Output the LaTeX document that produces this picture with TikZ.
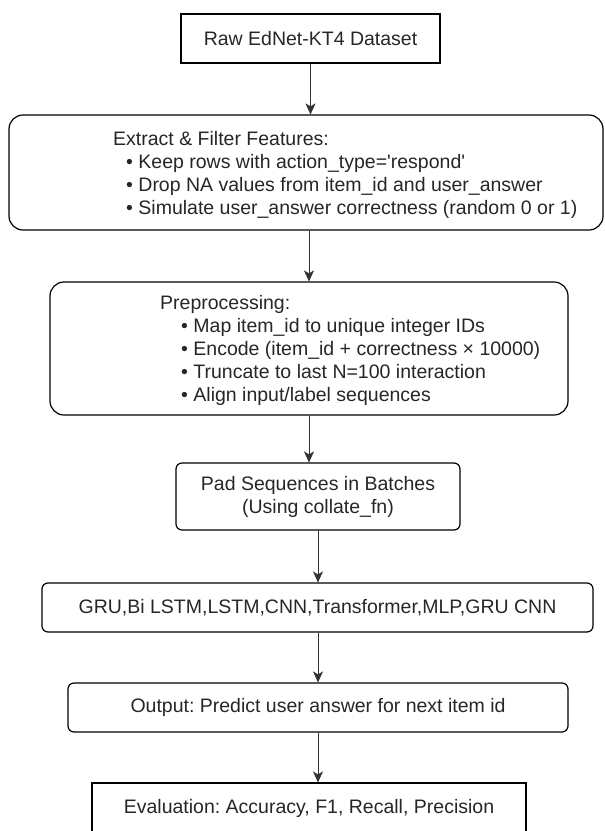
\documentclass[tikz,border=0pt]{standalone}
\usepackage{fontspec}
\setmainfont{Liberation Sans}
\usetikzlibrary{arrows.meta,positioning}
\frenchspacing

\tikzset{
  flowbox/.style={draw, line width=1.2pt, inner sep=0pt, align=center,
    font=\fontsize{19.5}{23}\selectfont, text=black!85},
  roundbox/.style={flowbox, rounded corners=14pt},
  softbox/.style={flowbox, rounded corners=6pt},
  lbl/.style={inner sep=0pt, align=left, font=\fontsize{19.5}{23}\selectfont, text=black!85},
  flow/.style={-{Stealth[length=11pt,width=10pt,inset=3pt]}, line width=0.6pt, black!80}
}
\newcommand{\bul}{\hspace*{13pt}\textbullet\ }

\begin{document}
\begin{tikzpicture}[x=1pt,y=-1pt]
\useasboundingbox (0,0) rectangle (605,831);
\clip (0,0) rectangle (605,831);

% boxes, top to bottom
\node[flowbox, minimum width=259, minimum height=49] (raw) at (310.5,38.5) {Raw EdNet-KT4 Dataset};
\node[roundbox, minimum width=594, minimum height=115] (extract) at (306,172.5) {};
\node[lbl, anchor=west] (extracttxt) at (113,175) {Extract \& Filter Features:\\
  \bul Keep rows with action\_type=\textquotesingle respond\textquotesingle\\
  \bul Drop NA values from item\_id and user\_answer\\
  \bul Simulate user\_answer correctness (random 0 or 1)};

\node[roundbox, minimum width=518, minimum height=133] (prep) at (309,348.5) {};
\node[lbl, anchor=west] (preptxt) at (160,350) {Preprocessing:\\
  \hspace*{8pt}\bul Map item\_id to unique integer IDs\\
  \hspace*{8pt}\bul Encode (item\_id + correctness × 10000)\\
  \hspace*{8pt}\bul Truncate to last N=100 interaction\\
  \hspace*{8pt}\bul Align input/label sequences};

\node[softbox, minimum width=284, minimum height=67] (pad) at (318,496.5) {Pad Sequences in Batches\\(Using collate\_fn)};
\node[softbox, minimum width=551, minimum height=49] (models) at (317.5,607.5) {GRU,Bi LSTM,LSTM,CNN,Transformer,MLP,GRU CNN};
\node[softbox, minimum width=500, minimum height=49] (output) at (318,707.5) {Output: Predict user answer for next item id};
\node[flowbox, minimum width=434, minimum height=50] (eval) at (309,808) {Evaluation: Accuracy, F1, Recall, Precision};

% arrows
\draw[flow] (raw.south) -- (raw.south |- extract.north);
\draw[flow] (prep.north |- extract.south) -- (prep.north);
\draw[flow] (prep.south) -- (prep.south |- pad.north);
\draw[flow] (pad.south) -- (pad.south |- models.north);
\draw[flow] (output.north |- models.south) -- (output.north);
\draw[flow] (output.south) -- (output.south |- eval.north);
\end{tikzpicture}
\end{document}
